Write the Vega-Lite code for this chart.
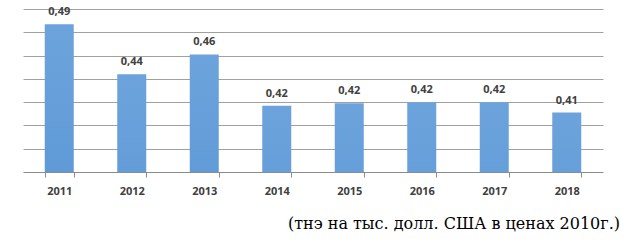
{
  "$schema": "https://vega.github.io/schema/vega-lite/v6.json",
  "width": 580,
  "height": 163,
  "autosize": {"type": "none"},
  "padding": {"left": 23, "top": 9, "right": 21, "bottom": 80},
  "background": "white",
  "data": {
    "values": [
      {"year": "2011", "value": 0.487, "label": "0,49"},
      {"year": "2012", "value": 0.444, "label": "0,44"},
      {"year": "2013", "value": 0.461, "label": "0,46"},
      {"year": "2014", "value": 0.417, "label": "0,42"},
      {"year": "2015", "value": 0.419, "label": "0,42"},
      {"year": "2016", "value": 0.420, "label": "0,42"},
      {"year": "2017", "value": 0.420, "label": "0,42"},
      {"year": "2018", "value": 0.411, "label": "0,41"}
    ]
  },
  "title": {
    "text": "(тнэ на тыс. долл. США в ценах 2010г.)",
    "orient": "bottom",
    "anchor": "end",
    "font": "DejaVu Serif",
    "fontSize": 16,
    "fontWeight": "normal",
    "color": "#000000",
    "dx": 17,
    "offset": 20
  },
  "layer": [
    {
      "mark": {
        "type": "bar",
        "clip": true,
        "color": {
          "gradient": "linear",
          "x1": 0, "y1": 0, "x2": 0, "y2": 1,
          "stops": [
            {"offset": 0, "color": "#6ca3dc"},
            {"offset": 1, "color": "#3d82c8"}
          ]
        }
      },
      "encoding": {
        "x": {
          "field": "year",
          "type": "ordinal",
          "scale": {"paddingInner": 0.6, "paddingOuter": 0.3},
          "axis": {
            "title": null,
            "labelAngle": 0,
            "ticks": true,
            "tickBand": "extent",
            "tickSize": 5,
            "tickColor": "#8c8c8c",
            "domain": true,
            "domainColor": "#8c8c8c",
            "labelFont": "Open Sans",
            "labelFontWeight": "bold",
            "labelFontSize": 11,
            "labelColor": "#404040",
            "labelPadding": 8
          }
        },
        "y": {
          "field": "value",
          "type": "quantitative",
          "scale": {"domain": [0.36, 0.5], "zero": false, "nice": false},
          "axis": {
            "title": null,
            "labels": false,
            "ticks": false,
            "domain": false,
            "grid": true,
            "gridColor": "#a0a0a0",
            "tickCount": 8,
            "values": [0.38, 0.40, 0.42, 0.44, 0.46, 0.48, 0.50]
          }
        }
      }
    },
    {
      "mark": {
        "type": "text",
        "baseline": "bottom",
        "dy": -7,
        "font": "Open Sans",
        "fontWeight": "bold",
        "fontSize": 11,
        "color": "#404040"
      },
      "encoding": {
        "x": {"field": "year", "type": "ordinal"},
        "y": {"field": "value", "type": "quantitative"},
        "text": {"field": "label"}
      }
    }
  ],
  "config": {"view": {"stroke": null}}
}
